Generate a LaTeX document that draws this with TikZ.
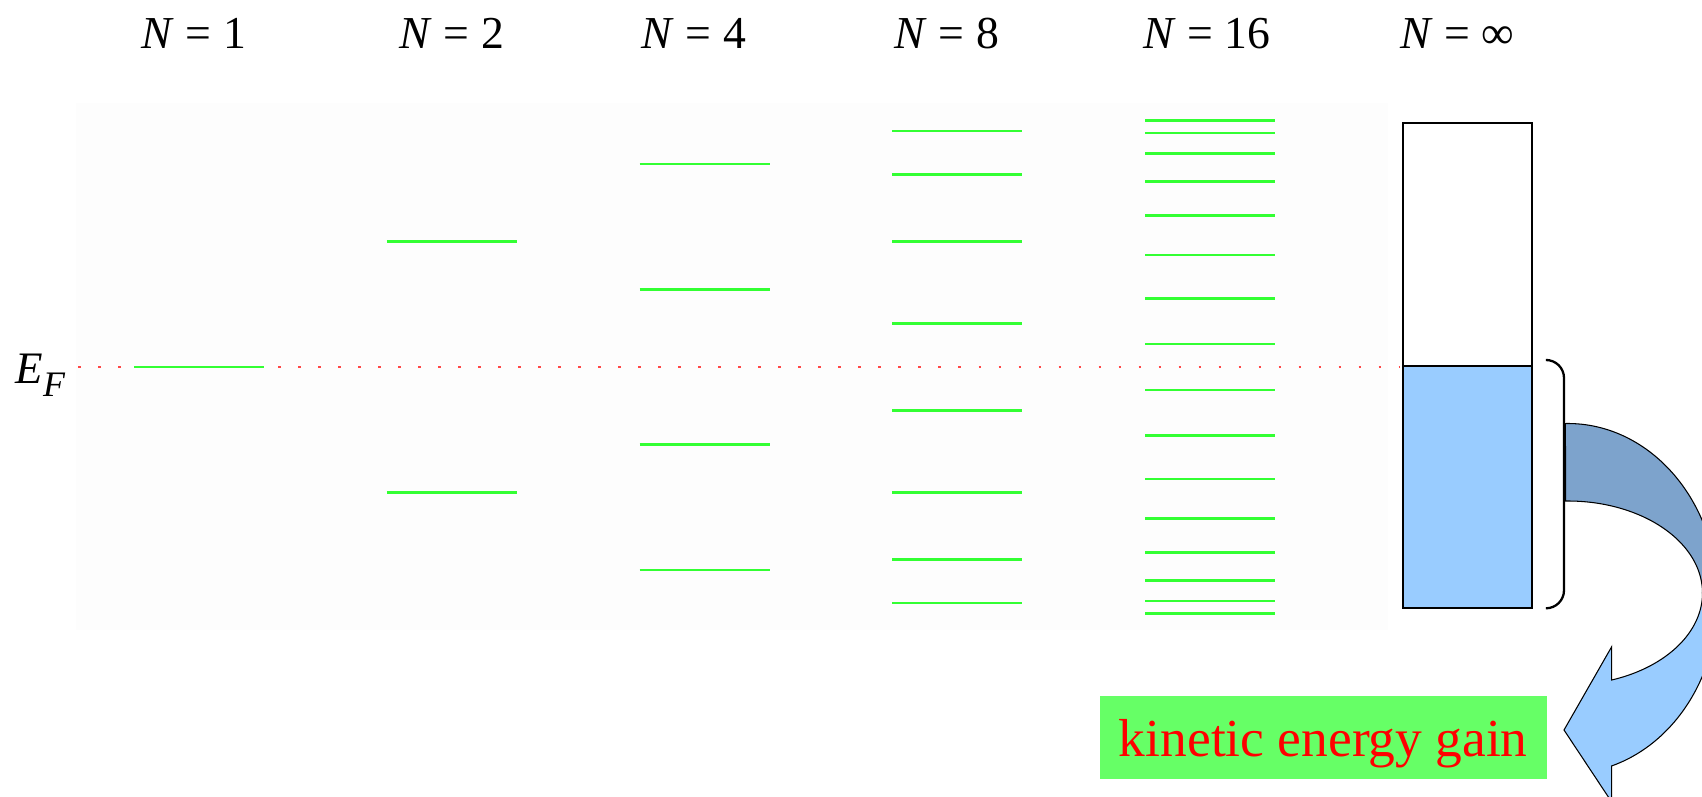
\documentclass[tikz,border=0pt]{standalone}
\usepackage{fontspec}
\setmainfont{Liberation Serif}
\definecolor{levelgreen}{HTML}{33FF33}
\definecolor{boxgreen}{HTML}{66FF66}
\definecolor{fermired}{HTML}{FF4646}
\definecolor{filledblue}{HTML}{99CCFF}
\definecolor{arrowdark}{HTML}{7DA3CC}

\begin{document}
\begin{tikzpicture}[x=0.01cm, y=-0.01cm,
	orbital/.style={draw=levelgreen, line width=0.75pt},
	fermi/.style={draw=fermired, line width=0.7pt, dash pattern=on 0.025cm off 0.175cm},
	title/.style={anchor=base, inner sep=0, font=\fontsize{13}{15}\selectfont},
	band/.style={draw=black, line width=0.6pt},
	arrowline/.style={draw=black, line width=0.3pt}]
	\useasboundingbox (0,0) rectangle (1702,797);
	\fill[black!0.6] (76,103) rectangle (1388,630);
	\foreach \n/\xx in {1/194, 2/452, 4/694, 8/947, 16/1207}
		\node[title] (title-\n) at (\xx,48.3) {\textit{N} = \n};
	\node[title] (title-inf) at (1457,48.3) {\textit{N} = ∞};
	\node[anchor=base west, inner sep=0] (EF) at (15,383.3) {\fontsize{12.8}{14}\selectfont\textit{E}\raisebox{-1.34mm}{\fontsize{10.2}{12}\selectfont\textit{F}}};
	\draw[fermi] (78,367) -- (1400,367);
	\foreach \n [count=\i from 0] in {1,2,4,8,16}
		\foreach \k in {1,...,\n}
			\draw[orbital] ({134+252.75*\i},{367+251*cos(\k*180/(\n+1))}) -- ++(130,0);
	\draw[band, fill=white] (1403.3,122.7) rectangle (1531.7,366);
	\draw[band, fill=filledblue] (1403.3,366) rectangle (1531.7,608.3);
	\draw[line width=0.65pt, rounded corners=0.18cm] (1548,360) -- (1564,360) -- (1564,608.3) -- (1548,608.3);
	\begin{scope}
		\clip (0,0) rectangle (1702,797);
		\filldraw[arrowline, fill=arrowdark] plot[domain=-91:0, samples=60] ({1568+150*cos(\x)},{598.5+175*sin(\x)})
			-- plot[domain=0:-91, samples=60] ({1568+134.5*cos(\x)},{593+92*sin(\x)}) -- cycle;
		\filldraw[arrowline, fill=filledblue] plot[domain=0:73.06, samples=60] ({1568+150*cos(\x)},{598.5+175*sin(\x)})
			-- (1611.7,802) -- (1564,730) -- (1611.7,646.7)
			-- plot[domain=71.04:0, samples=60] ({1568+134.5*cos(\x)},{593+92*sin(\x)}) -- cycle;
	\end{scope}
	\node[fill=boxgreen, text=red, inner xsep=0, inner ysep=0, minimum width=4.467cm, text height=0.607cm, text depth=0.226cm, font=\fontsize{15.2}{18}\selectfont] (gain) at (1323.3,737.7) {kinetic energy gain};
\end{tikzpicture}
\end{document}
